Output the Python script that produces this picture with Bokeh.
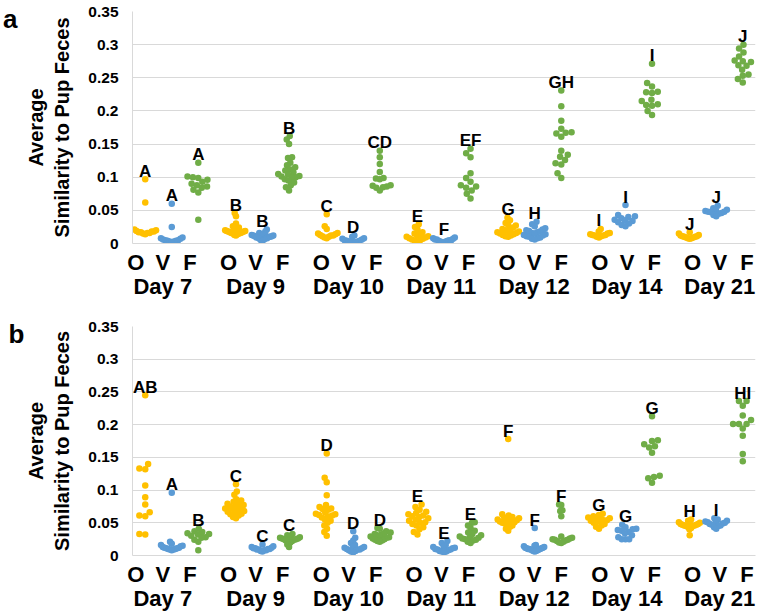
import numpy as np
from bokeh.plotting import figure
from bokeh.layouts import column
from bokeh.models import Range1d, LinearAxis, FixedTicker, NumeralTickFormatter
from bokeh.core.properties import value
from bokeh.embed import file_html
from bokeh.resources import INLINE

# ---------------- data ----------------
DAYS = ["Day 7", "Day 9", "Day 10", "Day 11", "Day 12", "Day 14", "Day 21"]
SAMPLES = ["O", "V", "F"]
Y_TICKS = [0, 0.05, 0.1, 0.15, 0.2, 0.25, 0.3, 0.35]
Y_TITLE = "Average\nSimilarity to Pup Feces"

# panel a
a_d7_O = [0.097, 0.062, 0.021, 0.020, 0.019, 0.018, 0.018, 0.017, 0.017, 0.016, 0.016, 0.015, 0.014]
a_d7_V = [0.060, 0.025, 0.009, 0.008, 0.007, 0.006, 0.005, 0.005, 0.004, 0.004, 0.003, 0.003, 0.002]
a_d7_F = [0.122, 0.101, 0.100, 0.099, 0.096, 0.093, 0.090, 0.088, 0.086, 0.084, 0.081, 0.077, 0.036]
a_d9_O = [0.046, 0.041, 0.030, 0.026, 0.024, 0.023, 0.022, 0.021, 0.020, 0.019, 0.019, 0.018, 0.018,
          0.017, 0.017, 0.016, 0.016, 0.015, 0.015, 0.014, 0.013, 0.012]
a_d9_V = [0.021, 0.018, 0.016, 0.015, 0.014, 0.013, 0.013, 0.012, 0.012, 0.011, 0.011, 0.010, 0.010,
          0.009, 0.009, 0.008, 0.008, 0.007, 0.006, 0.005, 0.004]
a_d9_F = [0.162, 0.157, 0.150, 0.130, 0.129, 0.122, 0.118, 0.115, 0.112, 0.110, 0.107, 0.105, 0.104,
          0.102, 0.101, 0.100, 0.099, 0.097, 0.095, 0.092, 0.088, 0.085, 0.080]
a_d10_O = [0.044, 0.026, 0.022, 0.016, 0.015, 0.014, 0.013, 0.012, 0.012, 0.011, 0.010, 0.009, 0.008]
a_d10_V = [0.012, 0.010, 0.008, 0.007, 0.006, 0.005, 0.004, 0.004, 0.003, 0.003, 0.002, 0.002, 0.002]
a_d10_F = [0.140, 0.130, 0.120, 0.108, 0.099, 0.098, 0.097, 0.088, 0.087, 0.086, 0.085, 0.084, 0.080]
a_d11_O = [0.029, 0.025, 0.021, 0.017, 0.015, 0.014, 0.012, 0.011, 0.010, 0.009, 0.008, 0.007, 0.006,
           0.005, 0.004, 0.003]
a_d11_V = [0.009, 0.008, 0.007, 0.006, 0.006, 0.005, 0.005, 0.004, 0.004, 0.003, 0.003, 0.002, 0.002]
a_d11_F = [0.143, 0.136, 0.130, 0.106, 0.099, 0.093, 0.088, 0.086, 0.084, 0.080, 0.075, 0.068]
a_d12_O = [0.039, 0.035, 0.031, 0.028, 0.027, 0.024, 0.022, 0.021, 0.020, 0.019, 0.018, 0.017, 0.016,
           0.015, 0.014, 0.013, 0.012, 0.011, 0.010]
a_d12_V = [0.033, 0.029, 0.026, 0.023, 0.021, 0.020, 0.019, 0.018, 0.017, 0.016, 0.015, 0.014, 0.013,
           0.012, 0.011, 0.010, 0.009, 0.008, 0.007, 0.006]
a_d12_F = [0.231, 0.207, 0.185, 0.173, 0.168, 0.167, 0.166, 0.161, 0.140, 0.134, 0.131, 0.126, 0.121,
           0.119, 0.106, 0.099]
a_d14_O = [0.022, 0.018, 0.016, 0.015, 0.014, 0.013, 0.013, 0.012, 0.012, 0.011, 0.010, 0.009]
a_d14_V = [0.058, 0.043, 0.041, 0.040, 0.038, 0.036, 0.035, 0.034, 0.032, 0.030, 0.028, 0.026]
a_d14_F = [0.271, 0.242, 0.237, 0.229, 0.228, 0.227, 0.217, 0.215, 0.210, 0.209, 0.208, 0.200, 0.194]
a_d21_O = [0.017, 0.015, 0.013, 0.012, 0.011, 0.011, 0.010, 0.010, 0.009, 0.009, 0.008, 0.008, 0.007]
a_d21_V = [0.057, 0.053, 0.051, 0.050, 0.049, 0.048, 0.048, 0.047, 0.046, 0.045, 0.043, 0.041]
a_d21_F = [0.300, 0.294, 0.288, 0.282, 0.276, 0.275, 0.274, 0.269, 0.268, 0.262, 0.255, 0.253, 0.248, 0.243]

# panel b
b_d7_O = [0.245, 0.140, 0.133, 0.132, 0.107, 0.089, 0.078, 0.066, 0.061, 0.060, 0.033, 0.032]
b_d7_V = [0.096, 0.021, 0.018, 0.016, 0.015, 0.014, 0.013, 0.012, 0.012, 0.011, 0.011, 0.010, 0.010,
          0.009, 0.009, 0.008]
b_d7_F = [0.041, 0.037, 0.036, 0.034, 0.033, 0.032, 0.030, 0.028, 0.027, 0.024, 0.021, 0.008]
b_d9_O = [0.109, 0.098, 0.093, 0.086, 0.084, 0.082, 0.080, 0.079, 0.077, 0.076, 0.075, 0.074, 0.072,
          0.071, 0.070, 0.068, 0.067, 0.066, 0.064, 0.063, 0.061, 0.059, 0.057]
b_d9_V = [0.017, 0.014, 0.013, 0.012, 0.011, 0.011, 0.010, 0.010, 0.009, 0.009, 0.008, 0.008, 0.007, 0.006]
b_d9_F = [0.033, 0.031, 0.029, 0.028, 0.027, 0.026, 0.026, 0.025, 0.025, 0.024, 0.024, 0.023, 0.022,
          0.020, 0.017, 0.013]
b_d10_O = [0.156, 0.119, 0.112, 0.092, 0.077, 0.074, 0.072, 0.071, 0.070, 0.066, 0.064, 0.063, 0.062,
           0.061, 0.060, 0.058, 0.055, 0.053, 0.050, 0.046, 0.041, 0.036, 0.030]
b_d10_V = [0.037, 0.027, 0.023, 0.019, 0.016, 0.014, 0.013, 0.012, 0.011, 0.010, 0.009, 0.009, 0.008,
           0.007, 0.006, 0.005]
b_d10_F = [0.042, 0.041, 0.037, 0.035, 0.034, 0.033, 0.032, 0.031, 0.030, 0.029, 0.028, 0.027, 0.026,
           0.025, 0.024, 0.023, 0.022, 0.021]
b_d11_O = [0.078, 0.074, 0.070, 0.067, 0.065, 0.063, 0.061, 0.060, 0.059, 0.057, 0.055, 0.053, 0.051,
           0.050, 0.048, 0.046, 0.043, 0.040, 0.036, 0.032]
b_d11_V = [0.022, 0.019, 0.016, 0.014, 0.013, 0.012, 0.011, 0.010, 0.009, 0.009, 0.008, 0.007, 0.006,
           0.006, 0.005]
b_d11_F = [0.051, 0.050, 0.046, 0.042, 0.038, 0.035, 0.033, 0.031, 0.029, 0.028, 0.027, 0.026, 0.025,
           0.024, 0.023, 0.021, 0.019]
b_d12_O = [0.178, 0.063, 0.061, 0.059, 0.058, 0.057, 0.056, 0.055, 0.054, 0.053, 0.052, 0.051, 0.050,
           0.049, 0.048, 0.046, 0.044, 0.041, 0.038]
b_d12_V = [0.042, 0.016, 0.015, 0.014, 0.013, 0.012, 0.012, 0.011, 0.011, 0.010, 0.010, 0.010, 0.009,
           0.009, 0.008, 0.008, 0.007, 0.007, 0.006]
b_d12_F = [0.078, 0.077, 0.069, 0.068, 0.060, 0.029, 0.027, 0.026, 0.025, 0.024, 0.024, 0.023, 0.022,
           0.021, 0.020, 0.019]
b_d14_O = [0.064, 0.062, 0.060, 0.058, 0.057, 0.056, 0.055, 0.054, 0.053, 0.052, 0.050, 0.048, 0.046,
           0.044, 0.041]
b_d14_V = [0.047, 0.043, 0.041, 0.040, 0.039, 0.038, 0.036, 0.034, 0.031, 0.028, 0.025, 0.025, 0.025]
b_d14_F = [0.213, 0.176, 0.175, 0.170, 0.167, 0.165, 0.157, 0.122, 0.120, 0.118, 0.111]
b_d21_O = [0.055, 0.053, 0.051, 0.050, 0.049, 0.048, 0.048, 0.047, 0.047, 0.046, 0.046, 0.045, 0.045,
           0.044, 0.042, 0.040, 0.031]
b_d21_V = [0.057, 0.055, 0.053, 0.052, 0.051, 0.050, 0.050, 0.049, 0.048, 0.047, 0.046, 0.045, 0.043, 0.041]
b_d21_F = [0.236, 0.236, 0.229, 0.214, 0.207, 0.201, 0.201, 0.201, 0.194, 0.183, 0.155, 0.144]

# significance letters
a_letters_O = ["A", "B", "C", "E", "G", "I", "J"]
a_letters_V = ["A", "B", "D", "F", "H", "I", "J"]
a_letters_F = ["A", "B", "CD", "EF", "GH", "I", "J"]
b_letters_O = ["AB", "C", "D", "E", "F", "G", "H"]
b_letters_V = ["A", "C", "D", "E", "F", "G", "I"]
b_letters_F = ["B", "C", "D", "E", "F", "G", "HI"]

# ---------------- style ----------------
COLORS = {"O": "#FFC000", "V": "#5B9BD5", "F": "#70AD47"}
FONT = "Liberation Sans"
GRID = "#D9D9D9"
GAP = 3.42            # distance between day groups (in sample slots)
X_START, X_END = -0.48, 6 * GAP + 2 + 0.48
LABEL_SCALE, LABEL_SHIFT = 1.023, -0.36   # category labels sit on a slightly wider spacing
DOT = 6.5             # marker diameter (px)
SPACING = 6.0         # swarm collision distance (px)
MAX_HALF = 11.0       # max half-width of a swarm (px)
TAG_Y = 0.3393        # vertical anchor of the panel tag
FRAME_W = 634


def swarm(vals, ypx, d):
    """Beeswarm horizontal offsets (px) for values."""
    order = np.argsort(vals, kind="stable")
    placed = []
    offs = [0.0] * len(vals)
    for i in order:
        y = vals[i] * ypx
        cands = [0.0]
        for (px, py) in placed:
            dy = abs(y - py)
            if dy < d:
                dx = (d * d - dy * dy) ** 0.5
                cands += [px + dx, px - dx]
        cands.sort(key=lambda c: (abs(c), c))
        for c in cands:
            if all((c - px) ** 2 + (y - py) ** 2 >= d * d - 1e-6 for px, py in placed):
                offs[i] = c
                placed.append((c, y))
                break
    m = max(abs(o) for o in offs)
    if m > MAX_HALF:
        offs = [o * MAX_HALF / m for o in offs]
    return offs


def make_panel(tag, series, letters, b_left, b_top, b_bottom, b_right, frame_h, tag_standoff):
    width = b_left + FRAME_W + b_right
    height = b_top + frame_h + b_bottom
    p = figure(width=width, height=height, output_backend="svg", toolbar_location=None,
               x_range=Range1d(X_START, X_END), y_range=Range1d(0, 0.35),
               min_border_left=b_left, min_border_right=b_right,
               min_border_top=b_top, min_border_bottom=b_bottom)
    p.outline_line_color = None
    p.background_fill_color = "white"
    p.border_fill_color = "white"

    ypx = frame_h / 0.35
    xpx = FRAME_W / (X_END - X_START)

    for k, s in enumerate(SAMPLES):
        xs, ys = [], []
        for g, vals in enumerate(series[s]):
            center = g * GAP + k
            offs = swarm(vals, ypx, SPACING)
            xs += [center + o / xpx for o in offs]
            ys += list(vals)
        p.scatter(xs, ys, size=DOT, fill_color=COLORS[s], line_color=None)
        lx = [g * GAP + k for g in range(len(DAYS))]
        ly = [max(v) for v in series[s]]
        p.text(lx, ly, text=letters[s], text_align="center", text_baseline="alphabetic",
               y_offset=-8, text_font=value(FONT), text_font_style="bold",
               text_font_size="17px", text_color="black")

    # y axis
    yax = p.yaxis[0]
    yax.ticker = FixedTicker(ticks=Y_TICKS)
    yax.formatter = NumeralTickFormatter(format="0.[00]")
    yax.axis_line_color = GRID
    yax.major_tick_line_color = None
    yax.minor_tick_line_color = None
    yax.major_tick_out = 0
    yax.major_label_standoff = 14
    yax.major_label_text_font = FONT
    yax.major_label_text_font_style = "bold"
    yax.major_label_text_font_size = "15.5px"
    yax.major_label_text_color = "black"
    yax.axis_label = Y_TITLE
    yax.axis_label_text_font = FONT
    yax.axis_label_text_font_style = "bold"
    yax.axis_label_text_font_size = "20px"
    yax.axis_label_text_color = "black"
    yax.axis_label_standoff = 12
    p.ygrid.ticker = FixedTicker(ticks=Y_TICKS)
    p.ygrid.grid_line_color = GRID
    p.xgrid.grid_line_color = None

    # panel tag as an outer left axis label
    tax = LinearAxis(ticker=FixedTicker(ticks=[TAG_Y]), major_label_overrides={TAG_Y: tag})
    tax.axis_line_color = None
    tax.major_tick_line_color = None
    tax.minor_tick_line_color = None
    tax.major_tick_out = 0
    tax.major_tick_in = 0
    tax.major_label_standoff = tag_standoff
    tax.major_label_text_font = FONT
    tax.major_label_text_font_style = "bold"
    tax.major_label_text_font_size = "26px"
    tax.major_label_text_color = "black"
    p.add_layout(tax, "left")

    # x axis: sample letters and day names
    cat_ticks, cat_over = [], {}
    day_ticks, day_over = [], {}
    for g, day in enumerate(DAYS):
        for k, s in enumerate(SAMPLES):
            t = round(LABEL_SHIFT + LABEL_SCALE * (g * GAP + k), 4)
            cat_ticks.append(t)
            cat_over[t] = s
        t = round(LABEL_SHIFT + LABEL_SCALE * (g * GAP + 1), 4)
        day_ticks.append(t)
        day_over[t] = day
    xax = p.xaxis[0]
    xax.ticker = FixedTicker(ticks=cat_ticks)
    xax.major_label_overrides = cat_over
    xax.axis_line_color = GRID
    xax.major_tick_line_color = None
    xax.minor_tick_line_color = None
    xax.major_tick_out = 0
    xax.major_label_standoff = 6
    xax.major_label_text_font = FONT
    xax.major_label_text_font_style = "bold"
    xax.major_label_text_font_size = "22px"
    xax.major_label_text_color = "black"

    dax = LinearAxis(ticker=FixedTicker(ticks=day_ticks), major_label_overrides=day_over)
    dax.axis_line_color = None
    dax.major_tick_line_color = None
    dax.minor_tick_line_color = None
    dax.major_tick_out = 0
    dax.major_tick_in = 0
    dax.major_label_standoff = -4
    dax.major_label_text_font = FONT
    dax.major_label_text_font_style = "bold"
    dax.major_label_text_font_size = "22px"
    dax.major_label_text_color = "black"
    p.add_layout(dax, "below")
    return p


series_a = {
    "O": [a_d7_O, a_d9_O, a_d10_O, a_d11_O, a_d12_O, a_d14_O, a_d21_O],
    "V": [a_d7_V, a_d9_V, a_d10_V, a_d11_V, a_d12_V, a_d14_V, a_d21_V],
    "F": [a_d7_F, a_d9_F, a_d10_F, a_d11_F, a_d12_F, a_d14_F, a_d21_F],
}
series_b = {
    "O": [b_d7_O, b_d9_O, b_d10_O, b_d11_O, b_d12_O, b_d14_O, b_d21_O],
    "V": [b_d7_V, b_d9_V, b_d10_V, b_d11_V, b_d12_V, b_d14_V, b_d21_V],
    "F": [b_d7_F, b_d9_F, b_d10_F, b_d11_F, b_d12_F, b_d14_F, b_d21_F],
}
letters_a = {"O": a_letters_O, "V": a_letters_V, "F": a_letters_F}
letters_b = {"O": b_letters_O, "V": b_letters_V, "F": b_letters_F}

pa = make_panel("a", series_a, letters_a, b_left=129, b_top=11, b_bottom=60, b_right=0,
                frame_h=232, tag_standoff=4)
pb = make_panel("b", series_b, letters_b, b_left=121, b_top=23, b_bottom=60, b_right=8,
                frame_h=229, tag_standoff=-3)

layout = column(pa, pb, spacing=0)
open("out.html", "w").write(file_html(layout, INLINE))
